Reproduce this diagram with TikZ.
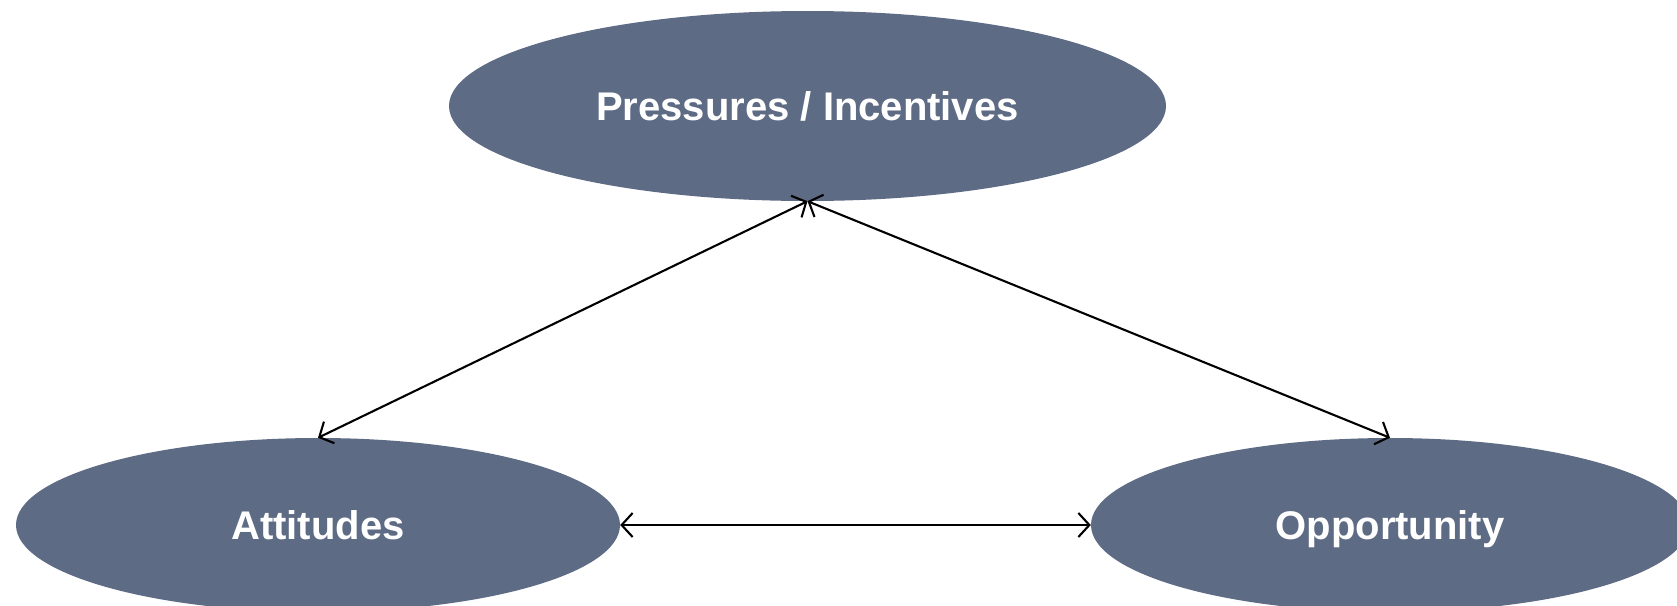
\documentclass[tikz,border=0pt]{standalone}
\usepackage{fontspec}
\setmainfont{Liberation Sans}
\usetikzlibrary{shapes.geometric,arrows.meta}
\definecolor{ellfill}{RGB}{94,107,132}
\tikzset{
  ell/.style={ellipse, fill=ellfill, draw=none, inner sep=0pt,
    text=white, font=\fontsize{40}{48}\selectfont\bfseries,
    text height=37pt, text depth=8pt},
  link/.style={draw=black, line width=2.1pt,
    {Straight Barb[length=11pt,width=24pt]}-{Straight Barb[length=11pt,width=24pt]}}
}
\begin{document}
\begin{tikzpicture}[x=1pt,y=-1pt]
\useasboundingbox (0,0) rectangle (1677,605);
\node[ell, minimum width=717pt, minimum height=190pt] (pres) at (807.5,106) {Pressures / Incentives};
\node[ell, minimum width=604pt, minimum height=174pt] (att) at (318,525) {Attitudes};
\node[ell, minimum width=598pt, minimum height=174pt] (opp) at (1390,525) {Opportunity};
\draw[link] (att.north) -- (pres.south);
\draw[link] (pres.south) -- (opp.north);
\draw[link] (att.east) -- (opp.west);
\end{tikzpicture}
\end{document}
